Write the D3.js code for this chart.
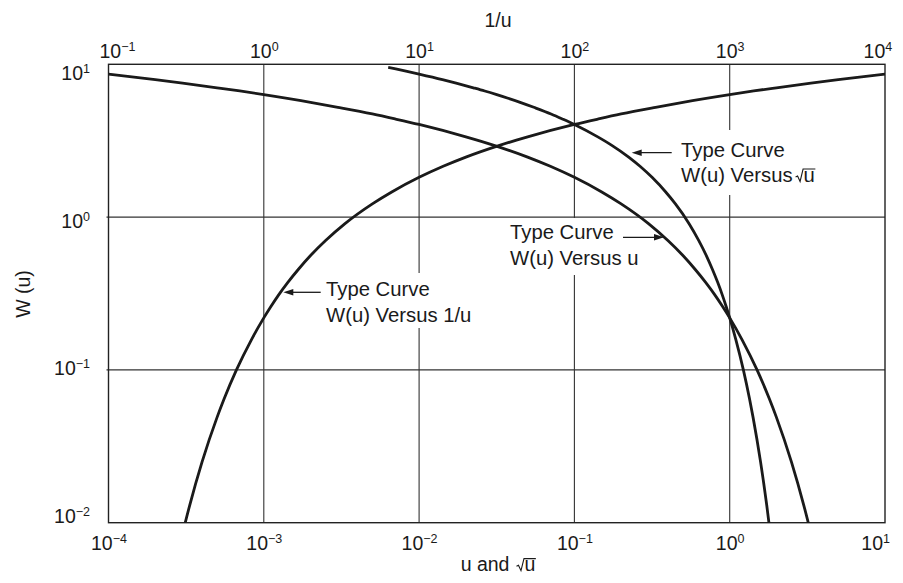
<!DOCTYPE html>
<html>
<head>
<meta charset="utf-8">
<script src="https://cdn.jsdelivr.net/npm/d3@7"></script>
<style>
  html, body { margin: 0; padding: 0; background: #fff; }
  svg { display: block; }
  text { font-family: "Liberation Sans", Arial, Helvetica, sans-serif; fill: #1a1a1a; }
</style>
</head>
<body>
<svg id="chart" width="903" height="583"></svg>
<script>
// ---------------- DATA ----------------
// Theis well function table: u and W(u)
const uValues = [4e-5, 5e-5, 7e-5, 1e-4, 2e-4, 3e-4, 5e-4, 7e-4, 1e-3, 2e-3, 3e-3, 5e-3, 7e-3,
  1e-2, 2e-2, 3e-2, 5e-2, 7e-2, 0.1, 0.15, 0.2, 0.3, 0.4, 0.5, 0.6, 0.7, 0.8, 0.9, 1.0,
  1.2, 1.5, 1.8, 2.0, 2.5, 3.0, 3.5];
const wValues = [9.55, 9.33, 8.99, 8.63, 7.94, 7.53, 7.02, 6.69, 6.33, 5.64, 5.23, 4.73, 4.39,
  4.04, 3.35, 2.96, 2.47, 2.15, 1.82, 1.46, 1.22, 0.906, 0.702, 0.560, 0.454, 0.374, 0.311, 0.260, 0.219,
  0.158, 0.100, 0.0647, 0.0489, 0.0249, 0.0130, 0.00697];

const bottomTicks = [1e-4, 1e-3, 1e-2, 1e-1, 1e0, 1e1];
const topTicks = [1e-1, 1e0, 1e1, 1e2, 1e3, 1e4];
const leftTicks = [1e-2, 1e-1, 1e0, 1e1];

const bottomTitle = "u and";
const topTitle = "1/u";
const leftTitle = "W (u)";
const labelTypeCurve = "Type Curve";
const labelSqrt = "W(u) Versus";
const labelU = "W(u) Versus u";
const labelInv = "W(u) Versus 1/u";

// ---------------- LAYOUT ----------------
const L = 108.5, R = 885, T = 64.3, B = 522.7;
const svg = d3.select("#chart");

const x = d3.scaleLog().domain([1e-4, 1e1]).range([L, R]);
const xTop = d3.scaleLog().domain([1e-1, 1e4]).range([L, R]);
const y = d3.scaleLog().domain([1e-2, 1e1]).range([B, T]);

const INK = "#1a1a1a";

// grid
const grid = svg.append("g");
grid.selectAll("line.v").data(bottomTicks.slice(1, -1)).join("line")
  .attr("x1", d => x(d)).attr("x2", d => x(d)).attr("y1", T).attr("y2", B)
  .attr("stroke", "#333").attr("stroke-width", 1.1);
grid.selectAll("line.h").data(leftTicks.slice(1, -1)).join("line")
  .attr("x1", L - 2).attr("x2", R).attr("y1", d => y(d)).attr("y2", d => y(d))
  .attr("stroke", "#333").attr("stroke-width", 1.1);

// white masks behind annotation text (hide grid lines)
const masks = [[676, 130, 118, 65], [504, 218, 158, 57], [320, 273, 162, 55]];
svg.append("g").selectAll("rect").data(masks).join("rect")
  .attr("x", d => d[0]).attr("y", d => d[1]).attr("width", d => d[2]).attr("height", d => d[3])
  .attr("fill", "#fff");

// frame
svg.append("rect").attr("x", L).attr("y", T).attr("width", R - L).attr("height", B - T)
  .attr("fill", "none").attr("stroke", "#222").attr("stroke-width", 1.4);

// curves
svg.append("defs").append("clipPath").attr("id", "plotclip")
  .append("rect").attr("x", L).attr("y", T).attr("width", R - L).attr("height", B - T);

const seriesU = uValues.map((u, i) => ({ px: x(u), py: y(wValues[i]) }));
const seriesSqrt = uValues.map((u, i) => ({ px: x(Math.sqrt(u)), py: y(wValues[i]) }));
const seriesInv = uValues.map((u, i) => ({ px: xTop(1 / u), py: y(wValues[i]) })).sort((a, b) => a.px - b.px);

const line = d3.line().x(d => d.px).y(d => d.py).curve(d3.curveMonotoneX);
const curves = svg.append("g").attr("clip-path", "url(#plotclip)");
[seriesU, seriesSqrt, seriesInv].forEach(s => {
  curves.append("path").attr("d", line(s)).attr("fill", "none")
    .attr("stroke", INK).attr("stroke-width", 2.8).attr("stroke-linejoin", "round");
});

// axes tick labels
function expLabel(sel) {
  sel.each(function (d) {
    const t = d3.select(this);
    const e = Math.round(Math.log10(d));
    t.text(null);
    t.append("tspan").text("10");
    t.append("tspan").attr("dy", -7).attr("font-size", 12.5).text(e < 0 ? "\u2212" + (-e) : String(e));
  });
}
const FS = 19.5;

const gB = svg.append("g").attr("transform", `translate(0,${B})`)
  .call(d3.axisBottom(x).tickValues(bottomTicks).tickSize(0));
gB.select(".domain").remove();
gB.selectAll("text").attr("y", 27.3).attr("dy", 0).attr("font-size", FS).attr("fill", INK)
  .attr("font-family", null).call(expLabel);
gB.selectAll(".tick").filter(d => d === 1e1).select("text").attr("text-anchor", "end").attr("x", 4.5);

const gT = svg.append("g").attr("transform", `translate(0,${T})`)
  .call(d3.axisTop(xTop).tickValues(topTicks).tickSize(0));
gT.select(".domain").remove();
gT.selectAll("text").attr("y", -6).attr("dy", 0).attr("font-size", FS).attr("fill", INK)
  .attr("font-family", null).call(expLabel);
gT.selectAll(".tick").filter(d => d === 1e-1).select("text").attr("text-anchor", "start").attr("x", -9.5);
gT.selectAll(".tick").filter(d => d === 1e4).select("text").attr("text-anchor", "end").attr("x", 6.7);

const gL = svg.append("g").attr("transform", `translate(${L},0)`)
  .call(d3.axisLeft(y).tickValues(leftTicks).tickSize(0));
gL.select(".domain").remove();
gL.selectAll("text").attr("x", -18.5).attr("dy", 0)
  .attr("y", d => 15 * (Math.log10(d) + 2) / 3)
  .attr("font-size", FS).attr("fill", INK).attr("font-family", null).call(expLabel);
svg.selectAll(".tick line").remove();

// axis titles
svg.append("text").attr("x", 498).attr("y", 26.7).attr("text-anchor", "middle")
  .attr("font-size", FS).text(topTitle);
svg.append("text").attr("transform", "translate(30,294) rotate(-90)").attr("text-anchor", "middle")
  .attr("font-size", FS).text(leftTitle);

// text followed by a drawn radical "√u"
function radicalText(x0, base, fs, prefix, gap) {
  const g = svg.append("g");
  const t = g.append("text").attr("x", x0).attr("y", base).attr("font-size", fs).text(prefix);
  const w = t.node().getComputedTextLength();
  const sx = x0 + w + gap;
  const xh = fs * 0.54;
  const u = g.append("text").attr("x", sx + 8).attr("y", base).attr("font-size", fs).text("u");
  const uw = u.node().getComputedTextLength();
  g.append("path")
    .attr("d", `M${sx},${base - 4.5} L${sx + 2},${base - 5.5} L${sx + 4.5},${base} L${sx + 7.5},${base - xh - 1.5} L${sx + 8.5 + uw},${base - xh - 1.5}`)
    .attr("fill", "none").attr("stroke", INK).attr("stroke-width", 1.1);
  return g;
}

// bottom title: "u and √u", centred
(function () {
  const tmp = svg.append("text").attr("font-size", FS).text(bottomTitle);
  const w = tmp.node().getComputedTextLength();
  tmp.remove();
  const gap = 7;
  const total = w + gap + 8 + FS * 0.556;
  radicalText(498 - total / 2, 570.7, FS, bottomTitle, gap);
})();

// annotations
const AFS = 20.3;
function arrow(x1, x2, yy) {
  const dir = Math.sign(x2 - x1);
  svg.append("line").attr("x1", x1).attr("x2", x2 - dir * 8).attr("y1", yy).attr("y2", yy)
    .attr("stroke", INK).attr("stroke-width", 1.3);
  svg.append("path")
    .attr("d", `M${x2},${yy} L${x2 - dir * 10},${yy - 3.2} L${x2 - dir * 10},${yy + 3.2} Z`)
    .attr("fill", INK);
}

// W(u) versus sqrt(u)
svg.append("text").attr("x", 681).attr("y", 156.7).attr("font-size", AFS).text(labelTypeCurve);
radicalText(681, 181.5, AFS, labelSqrt, 3);
arrow(671.7, 631.7, 152.7);

// W(u) versus u
svg.append("text").attr("x", 510).attr("y", 239).attr("font-size", AFS).text(labelTypeCurve);
svg.append("text").attr("x", 510).attr("y", 265).attr("font-size", AFS).text(labelU);
arrow(623, 664, 237.3);

// W(u) versus 1/u
svg.append("text").attr("x", 326).attr("y", 295.7).attr("font-size", AFS).text(labelTypeCurve);
svg.append("text").attr("x", 326).attr("y", 321.7).attr("font-size", AFS).text(labelInv);
arrow(320.7, 283.3, 292.3);
</script>
</body>
</html>
